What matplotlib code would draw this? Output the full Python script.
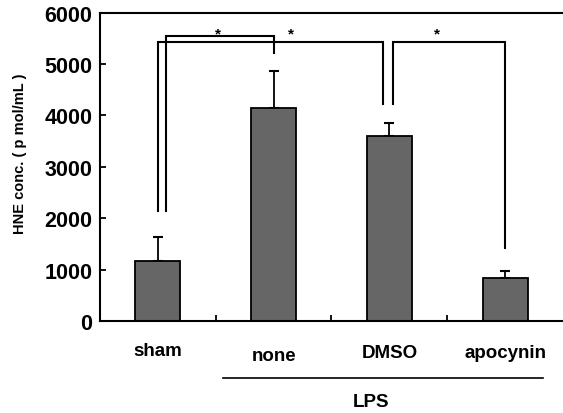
import matplotlib
matplotlib.use("Agg")
from matplotlib import pyplot as plt
from matplotlib import transforms

plt.rcParams['font.family'] = ['Liberation Sans', 'DejaVu Sans']
plt.rcParams['font.weight'] = 'bold'

groups = ["sham", "none", "DMSO", "apocynin"]
hne = [1170, 4140, 3600, 840]
sd = [470, 720, 260, 130]

# brackets: left x, right x, top, left bottom, right bottom, star x
brackets = [
    (0.07, 1.0, 5550, 2140, 5210, 0.52),
    (0.0, 1.945, 5420, 2140, 4230, 1.15),
    (2.035, 3.0, 5420, 4230, 1420, 2.41),
]
star_y = 5600

fig = plt.figure(figsize=(5.63, 4.14), dpi=100)
ax = fig.add_axes([0.1776, 0.2222, 0.8224, 0.745])

x = list(range(len(groups)))
ax.bar(x, hne, width=0.39, color="#666666", edgecolor="black", linewidth=1.3, zorder=2)
ax.errorbar(x, hne, yerr=[[0] * len(sd), sd], fmt="none", ecolor="black",
            elinewidth=1.3, capsize=3.8, capthick=1.5, zorder=1)

for xl, xr, top, yl, yr, sx in brackets:
    ax.plot([xl, xl, xr, xr], [yl, top, top, yr], color="black", lw=1.5,
            solid_joinstyle="miter", clip_on=False)
    ax.text(sx, star_y, "*", ha="center", va="center", fontsize=11)

ax.set_xlim(-0.5, 3.5)
ax.set_ylim(0, 6000)
ax.set_yticks(range(0, 6001, 1000))
ax.set_xticks([0.5, 1.5, 2.5])
ax.set_xticklabels([])
ax.tick_params(direction="in", length=4.5, width=1.3, labelsize=15.5)
ax.tick_params(axis="y", pad=5.5)
for s in ["left", "bottom", "top"]:
    ax.spines[s].set_linewidth(1.5)
ax.spines["right"].set_visible(False)

ax.set_ylabel("HNE conc. ( p mol/mL )", fontsize=10.5, fontweight="bold")
ax.yaxis.set_label_coords(-0.158, 0.545)

offsets = [21, 25, 23, 23]
for xi, name, off in zip(x, groups, offsets):
    ax.annotate(name, xy=(xi, 0), xycoords=("data", "axes fraction"),
                xytext=(0, -off), textcoords="offset points",
                ha="center", va="center", fontsize=13.5)

trans = transforms.blended_transform_factory(ax.transData, ax.transAxes)
ax.plot([0.563, 3.33], [-0.185, -0.185], color="black", lw=1.2,
        transform=trans, clip_on=False)
ax.annotate("LPS", xy=(1.84, 0), xycoords=("data", "axes fraction"),
            xytext=(0, -58), textcoords="offset points",
            ha="center", va="center", fontsize=13.5)

fig.savefig("out.png", dpi=100)
